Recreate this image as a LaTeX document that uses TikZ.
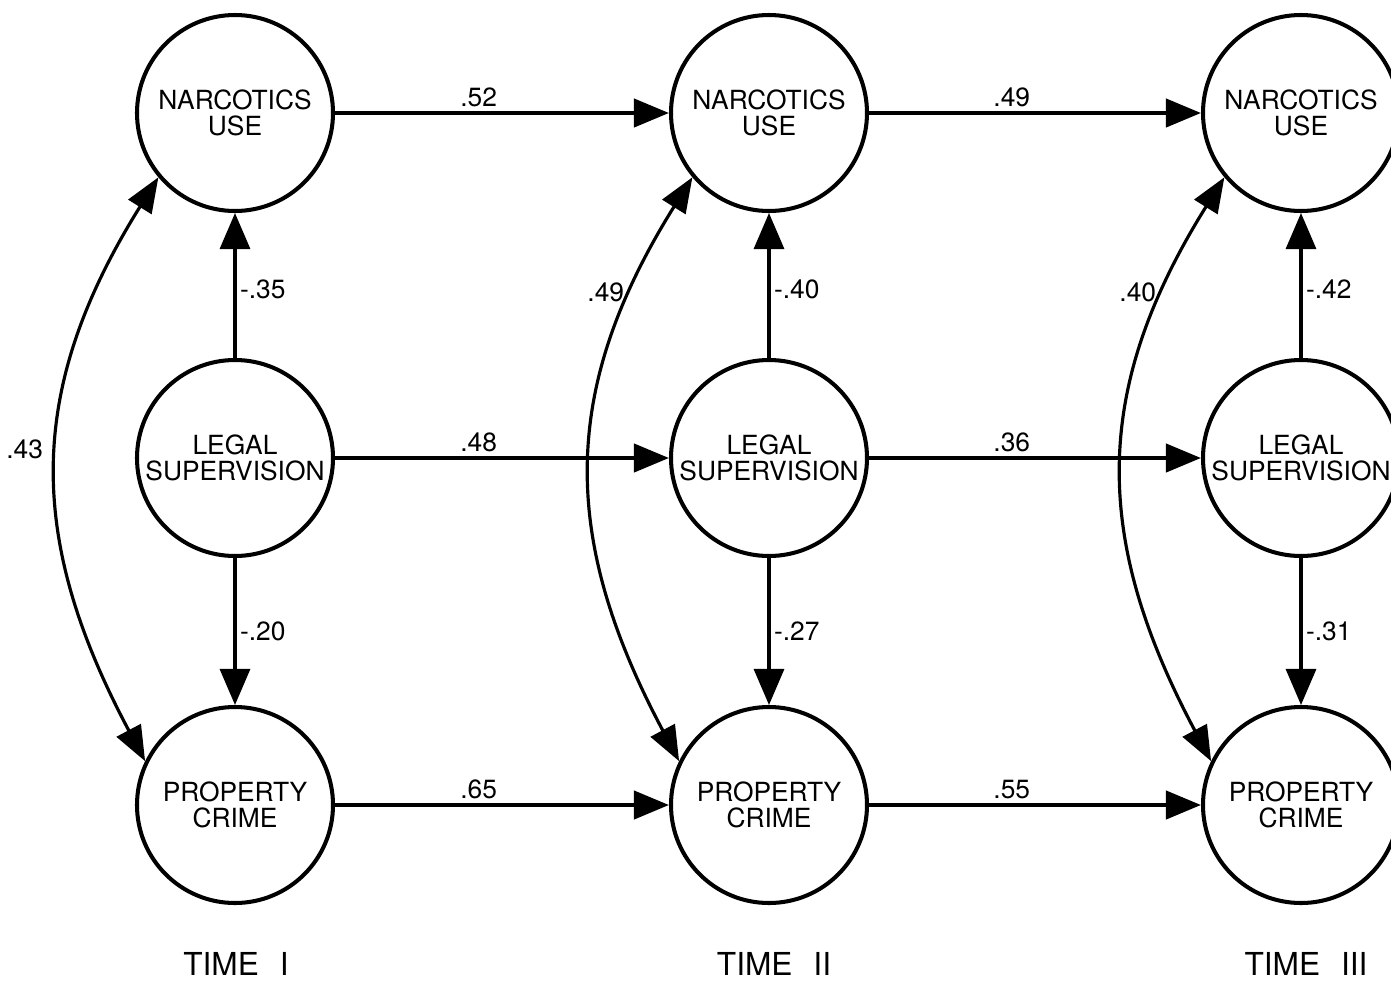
\documentclass[tikz,border=0pt]{standalone}
\usepackage{fontspec}
\setmainfont{TeX Gyre Heros}
\usetikzlibrary{arrows.meta}

\begin{document}
\begin{tikzpicture}[x=1cm, y=1cm,
  font=\fontsize{15}{14.6}\selectfont,
  lat/.style={draw, circle, line width=2.3pt, minimum size=3.92cm, inner sep=0pt, align=center},
  eff/.style={-{Triangle[length=7mm, width=5.6mm]}, line width=2.4pt},
  reg/.style={-{Triangle[length=7.2mm, width=6mm]}, line width=1.8pt},
  cov/.style={{Triangle[length=7mm, width=5.4mm]}-{Triangle[length=7mm, width=5.4mm]}, line width=1.8pt},
  coef/.style={inner sep=2pt},
  wave/.style={font=\fontsize{18}{18}\selectfont, inner sep=0pt, anchor=base}
]
\useasboundingbox (0,0) rectangle (27.82,-19.62);
% ================= time I =================
\node[lat] (n1) at (4.70,-2.26) {NARCOTICS\\USE};
\node[lat] (l1) at (4.70,-9.16) {LEGAL\\SUPERVISION};
\node[lat] (p1) at (4.70,-16.10) {PROPERTY\\CRIME};
% ================= time II =================
\node[lat] (n2) at (15.38,-2.26) {NARCOTICS\\USE};
\node[lat] (l2) at (15.38,-9.16) {LEGAL\\SUPERVISION};
\node[lat] (p2) at (15.38,-16.10) {PROPERTY\\CRIME};
% ================= time III =================
\node[lat] (n3) at (26.02,-2.26) {NARCOTICS\\USE};
\node[lat] (l3) at (26.02,-9.16) {LEGAL\\SUPERVISION};
\node[lat] (p3) at (26.02,-16.10) {PROPERTY\\CRIME};
% ================= wave labels =================
\node[wave] (t1) at (4.72,-19.50) {TIME\hspace{0.42cm}I};
\node[wave] (t2) at (15.48,-19.50) {TIME\hspace{0.42cm}II};
\node[wave] (t3) at (26.12,-19.50) {TIME\hspace{0.42cm}III};
% ================= within-time paths =================
\draw[reg] (l1) -- node[coef, right, yshift=-2pt]{-.35} (n1);
\draw[reg] (l1) -- node[coef, right]{-.20} (p1);
\draw[reg] (l2) -- node[coef, right, yshift=-2pt]{-.40} (n2);
\draw[reg] (l2) -- node[coef, right]{-.27} (p2);
\draw[reg] (l3) -- node[coef, right, yshift=-2pt]{-.42} (n3);
\draw[reg] (l3) -- node[coef, right]{-.31} (p3);
% ================= stability paths =================
\draw[eff] (n1) -- node[coef, above, pos=0.43]{.52} (n2);
\draw[eff] (l1) -- node[coef, above, pos=0.43]{.48} (l2);
\draw[eff] (p1) -- node[coef, above, pos=0.43]{.65} (p2);
\draw[eff] (n2) -- node[coef, above, pos=0.43]{.49} (n3);
\draw[eff] (l2) -- node[coef, above, pos=0.43]{.36} (l3);
\draw[eff] (p2) -- node[coef, above, pos=0.43]{.55} (p3);
% ================= correlations =================
\draw[cov] (n1.220) to[out=238, in=118, looseness=1.1] node[coef, left, pos=0.47, xshift=-0.2cm]{.43} (p1.154);
\draw[cov] (n2.220) to[out=238, in=118, looseness=1.1] node[coef, left, pos=0.19, xshift=-1pt]{.49} (p2.154);
\draw[cov] (n3.220) to[out=238, in=118, looseness=1.1] node[coef, left, pos=0.19, xshift=-1pt]{.40} (p3.154);
\end{tikzpicture}
\end{document}
